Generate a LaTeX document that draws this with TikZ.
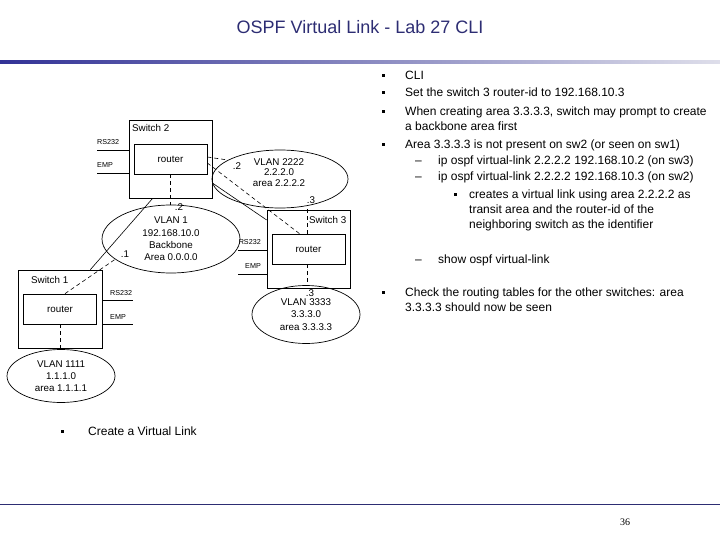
\documentclass[tikz,border=0pt]{standalone}
\usepackage{fontspec}
\setmainfont{Liberation Sans}
\newfontfamily\pagenumfont{Liberation Serif}
\usepackage{tikz}
\usetikzlibrary{shapes.geometric, arrows.meta, positioning, calc}
\usepackage{xcolor}
\definecolor{LabNavy}{RGB}{45, 45, 115}
\definecolor{LabBarDark}{RGB}{50, 50, 150}
\definecolor{LabBarLight}{RGB}{222, 222, 234}

\begin{document}
\begin{tikzpicture}[x=1pt, y=-1pt,
    switchbox/.style={draw, line width=0.7pt, minimum width=83pt, minimum height=78pt, inner sep=0pt},
    routerbox/.style={draw, line width=0.7pt, minimum width=73pt, minimum height=30pt, inner sep=0pt, font=\fontsize{9.8}{11}\selectfont},
    vlan/.style={draw, ellipse, line width=0.7pt, inner sep=0pt, align=center, font=\fontsize{9.8}{12.3}\selectfont},
    diagtext/.style={inner sep=0pt, font=\fontsize{9.8}{11}\selectfont},
    porttext/.style={inner sep=0pt, font=\fontsize{7.2}{8}\selectfont},
    link/.style={line width=0.6pt},
    ospflink/.style={line width=0.6pt, dash pattern=on 4pt off 3pt},
    listtext/.style={inner sep=0pt, font=\fontsize{12}{15}\selectfont, align=left},
    bulletmark/.style={fill=black, inner sep=0pt, minimum size=3pt}]
  \useasboundingbox (0,0) rectangle (720,540);

  \node[inner sep=0pt, text=LabNavy, font=\fontsize{18}{20}\selectfont] (title) at (360,27) {OSPF Virtual Link - Lab 27 CLI};
  \shade[left color=LabBarDark, right color=LabBarLight] (0,61) rectangle (720,64);
  \draw[LabNavy, line width=0.8pt] (0,504) -- (720,504);
  \node[inner sep=0pt, font=\pagenumfont\fontsize{10}{12}\selectfont] (pagenum) at (625,522) {36};

  \node[switchbox] (sw2) at (170.5,159) {};
  \node[routerbox] (r2) at (sw2.center) {router};
  \node[diagtext, anchor=west] (sw2name) at (132,128) {Switch 2};
  \node[switchbox] (sw3) at (308.5,249) {};
  \node[routerbox] (r3) at (sw3.center) {router};
  \node[diagtext, anchor=west] (sw3name) at (309,220) {Switch 3};
  \node[switchbox, minimum width=84pt] (sw1) at (60,309) {};
  \node[routerbox] (r1) at (sw1.center) {router};
  \node[diagtext, anchor=west] (sw1name) at (31,280) {Switch 1};

  \node[vlan, minimum width=138pt, minimum height=68pt] (v1) at (171,239) {VLAN 1\\192.168.10.0\\Backbone\\Area 0.0.0.0};
  \node[vlan, minimum width=136pt, minimum height=58pt] (v2222) at (280,179) {};
  \node[diagtext, align=center, font=\fontsize{9.8}{10.8}\selectfont] (v2222text) at (279,172.5) {VLAN 2222\\2.2.2.0\\area 2.2.2.2};
  \node[vlan, minimum width=108pt, minimum height=58pt] (v3333) at (306,314.5) {VLAN 3333\\3.3.3.0\\area 3.3.3.3};
  \node[vlan, minimum width=108pt, minimum height=53pt] (v1111) at (61,376) {VLAN 1111\\1.1.1.0\\area 1.1.1.1};

  \node[diagtext] (v1dot2) at (179,207) {.2};
  \node[diagtext] (v1dot1) at (125,254) {.1};
  \node[diagtext] (v2222dot2) at (237,166) {.2};
  \node[diagtext] (v2222dot3) at (311,200) {.3};
  \node[diagtext] (v3333dot3) at (310,293.5) {.3};

  \draw[link] ($(sw1.north east)+(-12,0)$) -- ($(sw2.south west)+(24,0)$);
  \draw[link] ($(sw2.east)+(0,24)$) -- ($(sw3.west)+(0,-29)$);
  \draw[ospflink] (r2.south) -- (r2.south |- v1.north);
  \draw[ospflink] ($(r1.north)+(5,0)$) -- (v1.200);
  \draw[ospflink] (r1.south) -- (r1.south |- v1111.north);
  \draw[ospflink] ($(r2.east)+(0,-2)$) -- (v2222.160);
  \draw[ospflink] ($(r2.east)+(0,4)$) -- ($(r3.north)+(-9,0)$);
  \draw[ospflink] ($(r3.north)+(-1.5,0)$) -- ($(r3.north |- v2222.south)+(-1.5,0)$);
  \draw[ospflink] ($(r3.south)+(-1.5,0)$) -- ($(r3.south |- v3333.north)+(-1.5,0)$);

  \coordinate (sw2rsend) at (97,150);
  \coordinate (sw2empend) at (97,173);
  \draw[link] (sw2rsend) -- (sw2.west |- sw2rsend);
  \draw[link] (sw2empend) -- (sw2.west |- sw2empend);
  \node[porttext, anchor=base west] (sw2rs) at (97,145) {RS232};
  \node[porttext, anchor=base west] (sw2emp) at (97,168) {EMP};
  \coordinate (sw3rsend) at (238,250);
  \coordinate (sw3empend) at (238,274);
  \draw[link] (sw3rsend) -- (sw3.west |- sw3rsend);
  \draw[link] (sw3empend) -- (sw3.west |- sw3empend);
  \node[porttext, anchor=base east] (sw3rs) at (261,244) {RS232};
  \node[porttext, anchor=base east] (sw3emp) at (261,268) {EMP};
  \coordinate (sw1rsend) at (133,300);
  \coordinate (sw1empend) at (133,324);
  \draw[link] (sw1.east |- sw1rsend) -- (sw1rsend);
  \draw[link] (sw1.east |- sw1empend) -- (sw1empend);
  \node[porttext, anchor=base west] (sw1rs) at (110,295.5) {RS232};
  \node[porttext, anchor=base west] (sw1emp) at (110,319) {EMP};

  \node[bulletmark] (clibullet) at (383,75.5) {};
  \node[listtext, anchor=base west] (cli) at (405,79.5) {CLI};
  \node[bulletmark] (setidbullet) at (383,92.5) {};
  \node[listtext, anchor=base west] (setid) at (405,96.5) {Set the switch 3 router-id to 192.168.10.3};
  \node[bulletmark] (areabullet) at (383,111.5) {};
  \node[listtext, anchor=north west] (area) at (405,106.5) {When creating area 3.3.3.3, switch may prompt to create\\a backbone area first};
  \node[bulletmark] (notbullet) at (383,144.5) {};
  \node[listtext, anchor=base west] (notpresent) at (405,148.5) {Area 3.3.3.3 is not present on sw2 (or seen on sw1)};
  \node[listtext, anchor=base] (vl3dash) at (418.5,164.5) {--};
  \node[listtext, anchor=base west] (vl3) at (438,164.5) {ip ospf virtual-link 2.2.2.2 192.168.10.2 (on sw3)};
  \node[listtext, anchor=base] (vl2dash) at (418.5,181) {--};
  \node[listtext, anchor=base west] (vl2) at (438,181) {ip ospf virtual-link 2.2.2.2 192.168.10.3 (on sw2)};
  \node[bulletmark] (transitbullet) at (455,194.5) {};
  \node[listtext, anchor=north west] (transit) at (469,189.8) {creates a virtual link using area 2.2.2.2 as\\transit area and the router-id of the\\neighboring switch as the identifier};
  \node[listtext, anchor=base] (showdash) at (418.5,263) {--};
  \node[listtext, anchor=base west] (showvl) at (438,263) {show ospf virtual-link};
  \node[bulletmark] (checkbullet) at (383,292.5) {};
  \node[listtext, anchor=north west] (check) at (405,287.7) {Check the routing tables for the other switches: area\\3.3.3.3 should now be seen};
  \node[bulletmark] (vlinkbullet) at (62,431) {};
  \node[listtext, anchor=base west] (vlink) at (88,435) {Create a Virtual Link};
\end{tikzpicture}
\end{document}
